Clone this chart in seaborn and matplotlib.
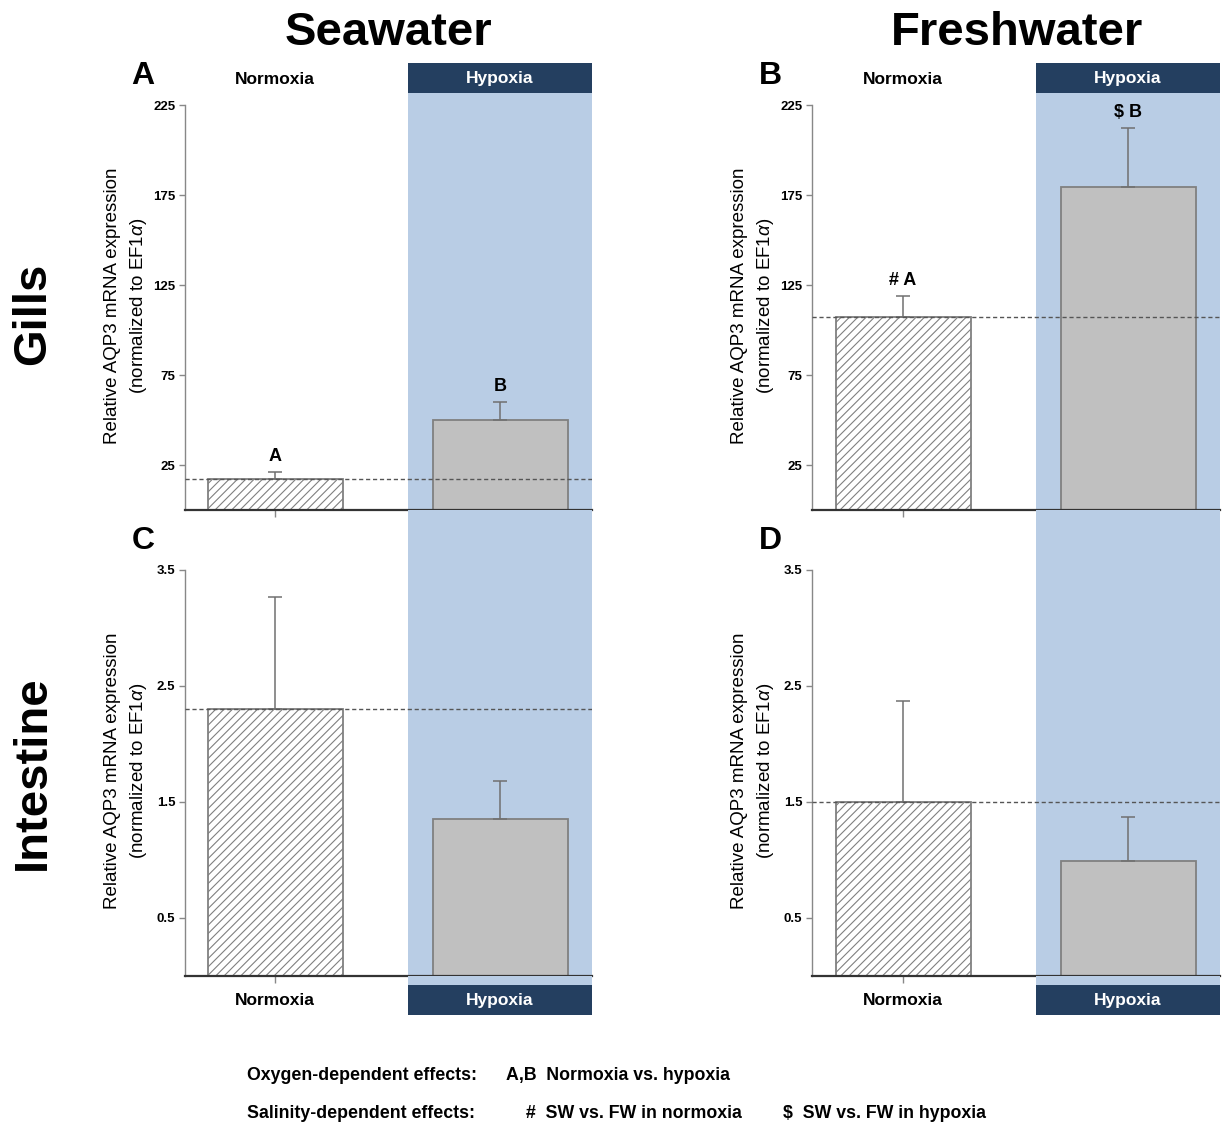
import matplotlib
matplotlib.use("Agg")
import matplotlib.pyplot as plt
from matplotlib.patches import Rectangle
import seaborn as sns

# ---------------- data ----------------
conditions = ["Normoxia", "Hypoxia"]
gills_sw = [17.2, 50.0]
gills_sw_err = [3.8, 10.0]
gills_fw = [107.0, 179.5]
gills_fw_err = [12.0, 32.5]
intestine_sw = [2.30, 1.35]
intestine_sw_err = [0.97, 0.33]
intestine_fw = [1.50, 0.99]
intestine_fw_err = [0.87, 0.38]
gills_ticks = [25, 75, 125, 175, 225]
intestine_ticks = [0.5, 1.5, 2.5, 3.5]
gills_sw_labels = ["A", "B"]
gills_fw_labels = ["# A", "$ B"]
col_titles = ["Seawater", "Freshwater"]
row_titles = ["Gills", "Intestine"]
panel_letters = ["A", "B", "C", "D"]
ylabel = "Relative AQP3 mRNA expression\n(normalized to EF1$\\alpha$)"

# ---------------- style ----------------
sns.set_style("white")
plt.rcParams["font.family"] = ["Liberation Sans", "DejaVu Sans"]
plt.rcParams["mathtext.fontset"] = "custom"
plt.rcParams["mathtext.rm"] = "Liberation Sans"
plt.rcParams["mathtext.it"] = "Liberation Sans:italic"
plt.rcParams["hatch.color"] = "#8c8c8c"
plt.rcParams["hatch.linewidth"] = 0.8
plt.rcParams["text.color"] = "black"
plt.rcParams["axes.labelcolor"] = "black"
plt.rcParams["xtick.color"] = "black"
plt.rcParams["ytick.color"] = "black"

W, H = 1222, 1123
fig = plt.figure(figsize=(W / 100, H / 100), dpi=100)

NAVY = "#243F60"
SHADE = "#B9CDE5"
BARGRAY = "#C0C0C0"
EDGE = "#808080"


def fx(px):
    return px / W


def fy(py):
    return 1 - py / H


def add_axes(left, right, top, bottom):
    return fig.add_axes([fx(left), fy(bottom), (right - left) / W, (bottom - top) / H])


def fig_rect(x0, x1, y0, y1, color, z=0):
    fig.patches.append(Rectangle((fx(x0), fy(y1)), (x1 - x0) / W, (y1 - y0) / H,
                                 transform=fig.transFigure, facecolor=color,
                                 edgecolor="none", zorder=z))


def draw_panel(ax, vals, errs, ticks, ymax, centers_px, left_px, right_px,
               shade_px, labels=None, show_xlabels=False, label_y=0.49, label_x=-0.088):
    c0, c1 = centers_px
    unit = c1 - c0
    xlo = -(c0 - left_px) / unit
    xhi = 1 + (right_px - c1) / unit
    shade_lo = (shade_px - c0) / unit
    ax.axvspan(shade_lo, xhi + 1, color=SHADE, zorder=0, lw=0)
    sns.barplot(x=conditions, y=vals, hue=conditions, order=conditions,
                hue_order=conditions, palette=["white", BARGRAY], saturation=1,
                legend=False, width=0.6, edgecolor=EDGE, linewidth=1.3, ax=ax,
                errorbar=None, zorder=2)
    bars = [p for p in ax.patches if p.get_height() > 0 and abs(p.get_width() - 0.6) < 1e-6]
    bars.sort(key=lambda p: p.get_x())
    bars[0].set_hatch("////")
    ax.errorbar([0, 1], vals, yerr=[[0, 0], errs], fmt="none", ecolor="#707070",
                elinewidth=1.1, capsize=5, capthick=1.1, zorder=3)
    ax.axhline(vals[0], color="#555555", lw=1.0, ls=(0, (3, 2)), zorder=4)
    ax.set_xlim(xlo, xhi)
    ax.set_ylim(0, ymax)
    ax.set_yticks(ticks)
    ax.set_yticklabels([("%g" % t) for t in ticks], fontsize=9.5, fontweight="bold")
    ax.tick_params(axis="y", direction="out", length=4, width=1, color="#888888", pad=3, left=True)
    ax.tick_params(axis="x", direction="out", length=5, width=1, color="#888888", bottom=True)
    for s in ["top", "right"]:
        ax.spines[s].set_visible(False)
    ax.spines["left"].set_color("#888888")
    ax.spines["left"].set_linewidth(1)
    ax.spines["left"].set_bounds(0, ticks[-1])
    ax.spines["bottom"].set_color("#333333")
    ax.spines["bottom"].set_linewidth(1.6)
    ax.spines["bottom"].set_zorder(5)
    ax.set_xlabel("")
    ax.set_ylabel(ylabel, fontsize=13.5, linespacing=1.45)
    ax.yaxis.set_label_coords(label_x, label_y)
    ax.set_facecolor("none")
    ax.set_xticks([0, 1])
    if show_xlabels:
        ax.set_xticklabels(["Normoxia", ""], fontsize=12.5, fontweight="bold")
        ax.tick_params(axis="x", pad=7)
    else:
        ax.set_xticklabels(["", ""])
    if labels:
        for i, lab in enumerate(labels):
            ax.annotate(lab, (i, vals[i] + errs[i]), xytext=(0, 5),
                        textcoords="offset points", ha="center", va="bottom",
                        fontsize=13, fontweight="bold", zorder=6)


# axes geometry (pixels)
colL = dict(left=185, right=592, centers=(275, 500), shade=408)
colR = dict(left=812, right=1220, centers=(903, 1128), shade=1036)

top_top, top_bot = 93, 510
bot_top, bot_bot = 510, 976
g_ymax = (top_bot - top_top) / 1.8
i_ymax = (bot_bot - bot_top) / 116.0

axA = add_axes(colL["left"], colL["right"], top_top, top_bot)
draw_panel(axA, gills_sw, gills_sw_err, gills_ticks, g_ymax, colL["centers"],
           colL["left"], colL["right"], colL["shade"], labels=gills_sw_labels,
           label_y=0.49)
axB = add_axes(colR["left"], colR["right"], top_top, top_bot)
draw_panel(axB, gills_fw, gills_fw_err, gills_ticks, g_ymax, colR["centers"],
           colR["left"], colR["right"], colR["shade"], labels=gills_fw_labels,
           label_y=0.49)
axC = add_axes(colL["left"], colL["right"], bot_top, bot_bot)
draw_panel(axC, intestine_sw, intestine_sw_err, intestine_ticks, i_ymax, colL["centers"],
           colL["left"], colL["right"], colL["shade"], show_xlabels=True, label_y=0.44)
axD = add_axes(colR["left"], colR["right"], bot_top, bot_bot)
draw_panel(axD, intestine_fw, intestine_fw_err, intestine_ticks, i_ymax, colR["centers"],
           colR["left"], colR["right"], colR["shade"], show_xlabels=True, label_y=0.44)

# headers and shading strips
for col in (colL, colR):
    x0, x1 = col["shade"], col["right"]
    fig_rect(x0, x1, 63, 93, NAVY)
    fig_rect(x0, x1, bot_bot, 985, SHADE)
    fig_rect(x0, x1, 985, 1015, NAVY)
    xm = (x0 + x1) / 2
    fig.text(fx(xm), fy(79), "Hypoxia", color="white", fontsize=12.5,
             fontweight="bold", ha="center", va="center")
    fig.text(fx(xm), fy(1001), "Hypoxia", color="white", fontsize=12.5,
             fontweight="bold", ha="center", va="center")
    fig.text(fx(col["centers"][0]), fy(79), "Normoxia", color="black", fontsize=12.5,
             fontweight="bold", ha="center", va="center")

# titles
fig.text(fx(388), fy(33), col_titles[0], fontsize=34, fontweight="bold", ha="center", va="center")
fig.text(fx(1017), fy(33), col_titles[1], fontsize=34, fontweight="bold", ha="center", va="center")
fig.text(fx(33), fy(314), row_titles[0], fontsize=34, fontweight="bold", ha="center",
         va="center", rotation=90)
fig.text(fx(33), fy(773), row_titles[1], fontsize=34, fontweight="bold", ha="center",
         va="center", rotation=90)

# panel letters
for lab, (px, py) in zip(panel_letters, [(143, 76), (770, 76), (143, 541), (770, 541)]):
    fig.text(fx(px), fy(py), lab, fontsize=23, fontweight="bold", ha="center", va="center")

# legend text
lf = dict(fontsize=12.8, fontweight="bold", va="center", ha="left")
fig.text(fx(247), fy(1075), "Oxygen-dependent effects:", **lf)
fig.text(fx(506), fy(1075), "A,B  Normoxia vs. hypoxia", **lf)
fig.text(fx(247), fy(1113), "Salinity-dependent effects:", **lf)
fig.text(fx(526), fy(1113), "#  SW vs. FW in normoxia", **lf)
fig.text(fx(783), fy(1113), "$  SW vs. FW in hypoxia", **lf)

fig.savefig("out.png", dpi=100, facecolor="white")
